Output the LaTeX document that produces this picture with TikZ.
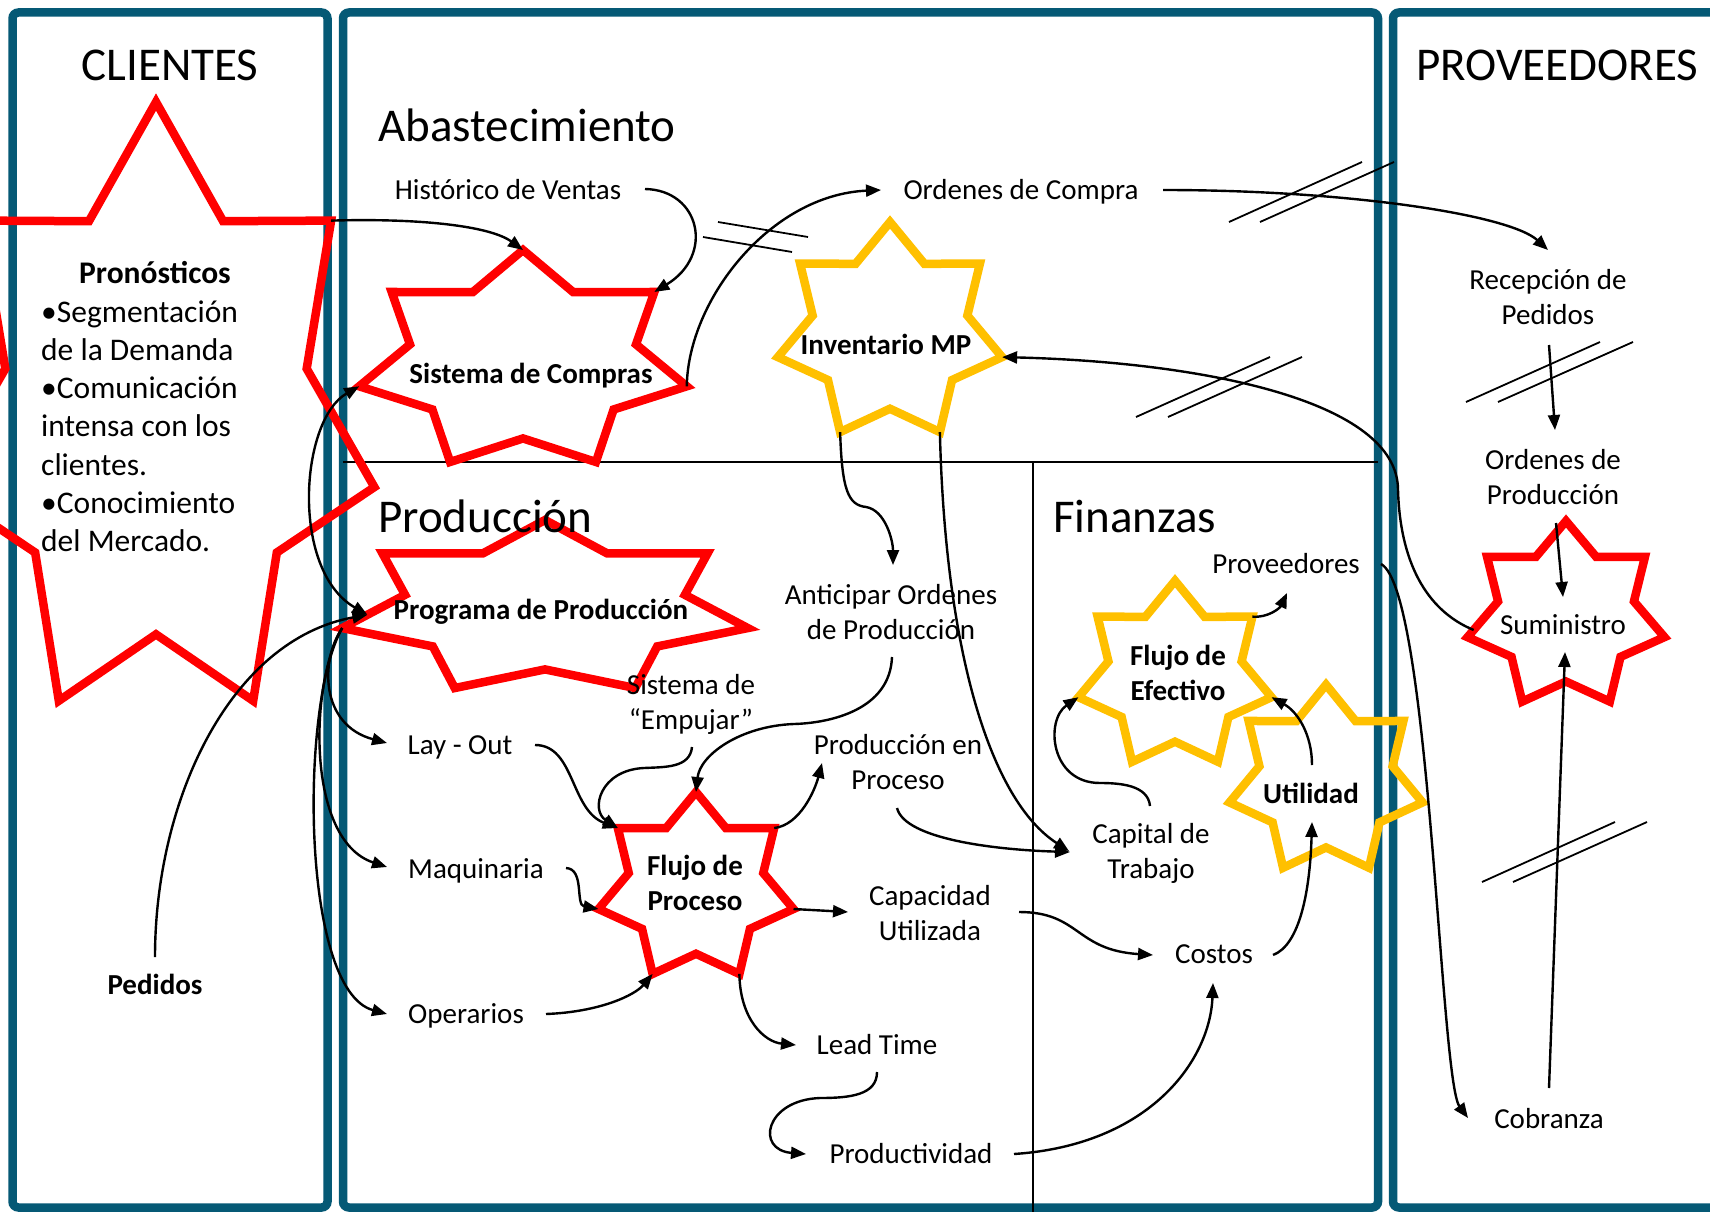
\documentclass[tikz,border=0pt]{standalone}
\usepackage{fontspec}
\setmainfont{Carlito}
\usetikzlibrary{arrows.meta,calc}
\definecolor{frameblue}{RGB}{5,89,117}
\definecolor{gold}{RGB}{255,192,0}
\newcommand\lblfont{\fontsize{29}{35}\selectfont}
\newcommand\blbfont{\fontsize{29}{35}\selectfont\bfseries}
\newcommand\ttlfont{\fontsize{47}{56}\selectfont}
\newcommand\pronfont{\fontsize{31.5}{38.3}\selectfont}
\newcommand\twol[2]{\begin{tabular}[t]{@{}c@{}}#1\\#2\end{tabular}}
\newcommand\septstar[6]{%
  \foreach \k in {1,...,7}{%
    \pgfmathsetmacro\ango{90-(\k-1)*360/7}%
    \pgfmathsetmacro\angi{90-(\k-0.5)*360/7}%
    \coordinate (#1-o\k) at ({#2+#4*cos(\ango)},{#3-#5*sin(\ango)});%
    \coordinate (#1-i\k) at ({#2+0.69*#4*cos(\angi)},{#3-0.69*#5*sin(\angi)});%
  }%
  \draw[#6] (#1-o1)--(#1-i1)--(#1-o2)--(#1-i2)--(#1-o3)--(#1-i3)--(#1-o4)--(#1-i4)--(#1-o5)--(#1-i5)--(#1-o6)--(#1-i6)--(#1-o7)--(#1-i7)--cycle;%
}
\tikzset{
  frame/.style={draw=frameblue, line width=8.5pt, rounded corners=6pt},
  redstar/.style={draw=red, line width=8.5pt, line join=miter, miter limit=10},
  yelstar/.style={draw=gold, line width=8.5pt, line join=miter, miter limit=10},
  lbl/.style={font=\lblfont, inner sep=0pt},
  blb/.style={font=\blbfont, inner sep=0pt},
  ttl/.style={font=\ttlfont, inner sep=0pt},
  arr/.style={line width=2.4pt, -{Triangle[length=15pt,width=12pt]}},
  darr/.style={line width=2.4pt, {Triangle[length=15pt,width=12pt]}-{Triangle[length=15pt,width=12pt]}},
  thinl/.style={line width=1.8pt}
}
\begin{document}
\begin{tikzpicture}[x=1pt,y=-1pt]
\clip (0,0) rectangle (1710,1212);
\fill[white] (0,0) rectangle (1710,1212);
% frames
\draw[frame] (12.5,12.5) rectangle (327.5,1207.5);
\draw[frame] (343,12.5) rectangle (1378,1207.5);
\draw[frame] (1393,12.5) rectangle (1760,1207.5);
% dividers
\draw[thinl] (343,462) -- (1378,462);
\draw[thinl] (1033,462) -- (1033,1212);
% slash marks
\draw[thinl] (718,222) -- (808,237);
\draw[thinl] (703,237) -- (792,252);
\draw[thinl] (1229,222) -- (1362,162);
\draw[thinl] (1260,222) -- (1394,162);
\draw[thinl] (1136,417) -- (1270,357);
\draw[thinl] (1168,417) -- (1302,357);
\draw[thinl] (1466,402) -- (1600,342);
\draw[thinl] (1498,402) -- (1633,342);
\draw[thinl] (1482,882) -- (1615,822);
\draw[thinl] (1513,882) -- (1647,822);
% stars
\septstar{pron}{156}{417}{224}{315}{redstar}
\septstar{sc}{523}{361.5}{168}{111.5}{redstar}
\septstar{inv}{890}{332.5}{115}{110.5}{yelstar}
\septstar{pp}{545}{608.4}{208}{88.4}{redstar}
\septstar{fp}{696}{887.7}{100}{95.7}{redstar}
\septstar{fe}{1175}{676}{99}{95.2}{yelstar}
\septstar{ut}{1326}{781}{99}{96.3}{yelstar}
\septstar{su}{1566}{616}{101}{95}{redstar}
\coordinate (pp-in) at ($(pp-o6)!0.4!(pp-i6)$);
% titles
\node[ttl, anchor=base] (clientes) at (170,81) {CLIENTES};
\node[ttl, anchor=base west] (proveed) at (1416,81) {PROVEEDORES};
\node[ttl, anchor=base west] (abast) at (378,142) {Abastecimiento};
\node[ttl, anchor=base west] (produccion) at (378,532) {Producción};
\node[ttl, anchor=base west] (finanzas) at (1053,532) {Finanzas};
% clientes text
\node[font=\pronfont\bfseries, inner sep=0pt, anchor=base] (pronT) at (155,283) {Pronósticos};
\node[font=\pronfont, inner sep=0pt, anchor=base west] (pronL) at (41,322) {\begin{tabular}[t]{@{}l@{}}•Segmentación\\de la Demanda\\•Comunicación\\intensa con los\\clientes.\\•Conocimiento\\del Mercado.\end{tabular}};
\node[blb, anchor=base] (pedidos) at (155,994) {Pedidos};
% star labels
\node[blb, anchor=base] (tsc) at (531,383) {Sistema de Compras};
\node[blb, anchor=base] (tinv) at (886,354) {Inventario MP};
\node[blb, anchor=base] (tpp) at (541,619) {Programa de Producción};
\node[blb, anchor=base] (tfp) at (695,875) {\twol{Flujo de}{Proceso}};
\node[blb, anchor=base] (tfe) at (1178,665) {\twol{Flujo de}{Efectivo}};
\node[blb, anchor=base] (tut) at (1311,803) {Utilidad};
\node[lbl, anchor=base] (sumin) at (1563,634) {Suministro};
% labels
\node[lbl, anchor=base] (hist) at (508,199) {Histórico de Ventas};
\node[lbl, anchor=base] (ordc) at (1021,199) {Ordenes de Compra};
\node[lbl, anchor=base] (recep) at (1548,289) {\twol{Recepción de}{Pedidos}};
\node[lbl, anchor=base] (ordp) at (1553,469) {\twol{Ordenes de}{Producción}};
\node[lbl, anchor=base] (antic) at (891,604) {\twol{Anticipar Ordenes}{de Producción}};
\node[lbl, anchor=base] (empuj) at (691,694) {\twol{Sistema de}{“Empujar”}};
\node[lbl, anchor=base] (pep) at (898,754) {\twol{Producción en}{Proceso}};
\node[lbl, anchor=base] (capu) at (930,905) {\twol{Capacidad}{Utilizada}};
\node[lbl, anchor=base] (capt) at (1151,843) {\twol{Capital de}{Trabajo}};
\node[lbl, anchor=base] (layout) at (460,754) {Lay - Out};
\node[lbl, anchor=base] (maq) at (476,878) {Maquinaria};
\node[lbl, anchor=base] (oper) at (466,1023) {Operarios};
\node[lbl, anchor=base] (lead) at (877,1054) {Lead Time};
\node[lbl, anchor=base] (produc) at (911,1163) {Productividad};
\node[lbl, anchor=base] (prov) at (1286,573) {Proveedores};
\node[lbl, anchor=base] (costos) at (1214,963) {Costos};
\node[lbl, anchor=base] (cobr) at (1549,1128) {Cobranza};
% connectors
\draw[arr] (pron-o2) .. controls (420,218) and (490,226) .. (sc-o1);
\draw[arr] ($(hist.base)+(137,-10)$) .. controls (700,190) and (715,255) .. (sc-o2);
\draw[arr] (sc-o3) .. controls (688,300) and (770,195) .. ($(ordc.base)+(-140,-9)$);
\draw[arr] ($(ordc.base)+(142,-9)$) .. controls (1350,190) and (1510,215) .. ($(recep.base)+(0,-39)$);
\draw[arr] ($(recep.base)+(1,56)$) -- ($(ordp.base)+(2,-39)$);
\draw[arr] ($(ordp.base)+(3,54)$) -- ($(sumin.base)+(0,-37)$);
\draw[arr] ($(cobr.base)+(0,-40)$) -- ($(sumin.base)+(2,18)$);
\draw[arr] ($(su-o6)!0.2!(su-i6)$) .. controls (1425,610) and (1400,560) .. (1398,490) .. controls (1398,400) and (1200,362) .. (inv-o3);
\draw[arr] (inv-o5) .. controls (842,490) and (848,505) .. (866,507) .. controls (885,510) and (893,540) .. ($(antic.base)+(2,-39)$);
\draw[arr] (inv-o4) .. controls (945,650) and (990,800) .. ($(capt.base)+(-82,8)$);
\draw[arr] ($(antic.base)+(1,53)$) .. controls (890,710) and (830,723) .. (794,724) .. controls (740,726) and (700,755) .. (fp-o1);
\draw[arr] ($(empuj.base)+(1,53)$) .. controls (690,768) and (665,767) .. (644,768) .. controls (600,770) and (590,810) .. (fp-o7);
\draw[arr] ($(layout.base)+(75,-9)$) .. controls (575,745) and (570,810) .. (fp-o7);
\draw[arr] ($(maq.base)+(90,-10)$) .. controls (585,869) and (575,905) .. (fp-o6);
\draw[arr] ($(oper.base)+(80,-9)$) .. controls (600,1012) and (635,995) .. (fp-o5);
\draw[arr] (fp-o2) .. controls (800,825) and (815,790) .. ($(pep.base)+(-76,9)$);
\draw[arr] (fp-o3) -- ($(capu.base)+(-82,7)$);
\draw[arr] (fp-o4) .. controls (740,1020) and (765,1042) .. ($(lead.base)+(-81,-9)$);
\draw[arr] ($(lead.base)+(0,18)$) .. controls (877,1095) and (850,1098) .. (820,1098) .. controls (765,1100) and (755,1150) .. ($(produc.base)+(-105,-9)$);
\draw[arr] ($(produc.base)+(103,-9)$) .. controls (1150,1145) and (1210,1060) .. ($(costos.base)+(-1,20)$);
\draw[arr] ($(capu.base)+(89,7)$) .. controls (1080,912) and (1075,950) .. ($(costos.base)+(-61,-8)$);
\draw[arr] ($(pep.base)+(-1,54)$) .. controls (905,840) and (1000,850) .. ($(capt.base)+(-81,9)$);
\draw[arr] ($(capt.base)+(-1,-37)$) .. controls (1148,785) and (1120,783) .. (1100,783) .. controls (1050,783) and (1045,720) .. (fe-o6);
\draw[arr] ($(tut.base)+(1,-38)$) .. controls (1312,735) and (1298,712) .. (fe-o3);
\draw[arr] (fe-o2) .. controls (1268,618) and (1280,608) .. ($(prov.base)+(1,20)$);
\draw[arr] ($(costos.base)+(59,-8)$) .. controls (1300,945) and (1310,890) .. ($(tut.base)+(1,19)$);
\draw[arr] ($(prov.base)+(95,-9)$) .. controls (1430,590) and (1440,1080) .. ($(cobr.base)+(-81,-10)$);
\draw[darr] (sc-o6) .. controls (300,420) and (290,570) .. (pp-in);
\draw[arr] ($(pedidos.base)+(0,-37)$) .. controls (155,800) and (230,640) .. (pp-in);
\draw[arr] (pp-o6) .. controls (320,660) and (320,725) .. ($(layout.base)+(-73,-11)$);
\draw[arr] (pp-o6) .. controls (310,680) and (305,840) .. ($(maq.base)+(-89,-11)$);
\draw[arr] (pp-o6) .. controls (300,700) and (300,990) .. ($(oper.base)+(-79,-9)$);
\end{tikzpicture}
\end{document}
